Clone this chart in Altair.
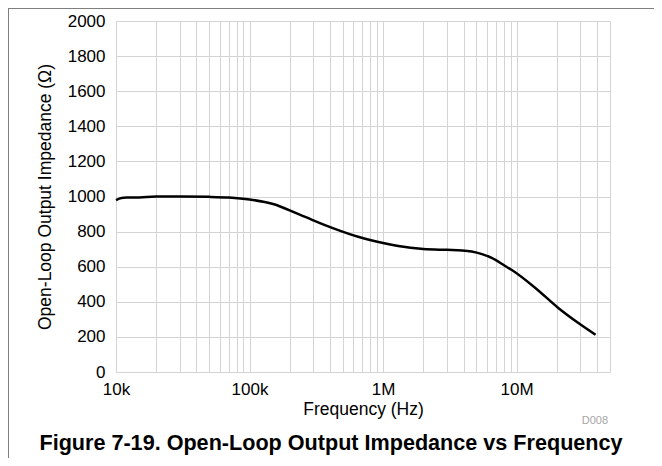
import altair as alt
import pandas as pd

# Curve (frequency in Hz, impedance in ohms)
freq_hz = [10e3, 11e3, 12e3, 15e3, 20e3, 30e3, 50e3, 70e3, 100e3, 150e3, 240e3,
           420e3, 660e3, 1.0e6, 1.3e6, 2.0e6, 3.0e6, 3.9e6, 4.6e6, 5.5e6, 6.5e6,
           8.2e6, 9.2e6, 13.8e6, 20.5e6, 29e6, 39e6]
impedance_ohm = [980, 992, 994, 995, 1000, 1000, 998, 994, 983, 957, 895,
                 820, 769, 735, 718, 701, 696, 693, 687, 672, 650,
                 604, 581, 479, 365, 279, 212]

# Axis ticks
x_tick_values = [m * d for d in (1e4, 1e5, 1e6) for m in range(1, 10)] + \
                [1e7, 2e7, 3e7, 4e7, 5e7]
x_tick_labels = ["10k", "100k", "1M", "10M"]
y_tick_values = list(range(0, 2001, 200))

caption = "Figure 7-19. Open-Loop Output Impedance vs Frequency"
code_label = "D008"

FONT = "Liberation Sans"
W, H = 494, 351

df = pd.DataFrame({"f": freq_hz, "z": impedance_ohm})

label_expr = (
    f"datum.value == 10000 ? '{x_tick_labels[0]}' : "
    f"datum.value == 100000 ? '{x_tick_labels[1]}' : "
    f"datum.value == 1000000 ? '{x_tick_labels[2]}' : "
    f"datum.value == 10000000 ? '{x_tick_labels[3]}' : ''"
)

line = alt.Chart(df).mark_line(
    color="black", strokeWidth=2.5, interpolate="monotone"
).encode(
    x=alt.X(
        "f:Q",
        scale=alt.Scale(type="log", domain=[1e4, 5e7], nice=False),
        axis=alt.Axis(
            values=x_tick_values, labelExpr=label_expr, title="Frequency (Hz)",
            grid=True, gridColor="#d4d4d4", gridWidth=1, ticks=False, domain=False,
            labelFont=FONT, titleFont=FONT, labelFontSize=17, titleFontSize=17.5,
            titleFontWeight="normal", labelColor="black", titleColor="black",
            labelPadding=9, titlePadding=3, labelOverlap=False, labelFlush=False,
            labelBound=False,
        ),
    ),
    y=alt.Y(
        "z:Q",
        scale=alt.Scale(domain=[0, 2000], nice=False),
        axis=alt.Axis(
            values=y_tick_values, format="d", title="Open-Loop Output Impedance (Ω)",
            grid=True, gridColor="#d4d4d4", gridWidth=1, ticks=False, domain=False,
            labelFont=FONT, titleFont=FONT, labelFontSize=17, titleFontSize=17.5,
            titleFontWeight="normal", labelColor="black", titleColor="black",
            labelPadding=11, titlePadding=13, labelOverlap=False, labelFlush=False,
        ),
    ),
)

note = alt.Chart(pd.DataFrame({"t": [code_label]})).mark_text(
    align="right", baseline="middle", fontSize=11, font=FONT, color="#a6a6a6"
).encode(x=alt.value(492), y=alt.value(400), text="t:N")

cap = alt.Chart(pd.DataFrame({"t": [caption]})).mark_text(
    align="center", baseline="middle", fontSize=21.6, fontWeight="bold",
    font=FONT, color="black"
).encode(x=alt.value(215), y=alt.value(423), text="t:N")

frame_left = alt.Chart(pd.DataFrame({"a": [0]})).mark_rule(
    color="#7f7f7f", strokeWidth=1
).encode(x=alt.value(-107.5), y=alt.value(-13), y2=alt.value(H + 86))

frame_top = alt.Chart(pd.DataFrame({"a": [0]})).mark_rule(
    color="#7f7f7f", strokeWidth=1
).encode(y=alt.value(-12.5), x=alt.value(-108), x2=alt.value(W + 44))

chart = alt.layer(line, note, cap, frame_left, frame_top).properties(
    width=W,
    height=H,
    autosize=alt.AutoSizeParams(type="none"),
    padding={"left": 108, "top": 13, "right": 44, "bottom": 86},
).configure_view(
    stroke="black", strokeWidth=2.5
).configure(background="white")

chart.save("out.html", embed_options={"renderer": "svg", "actions": False})
